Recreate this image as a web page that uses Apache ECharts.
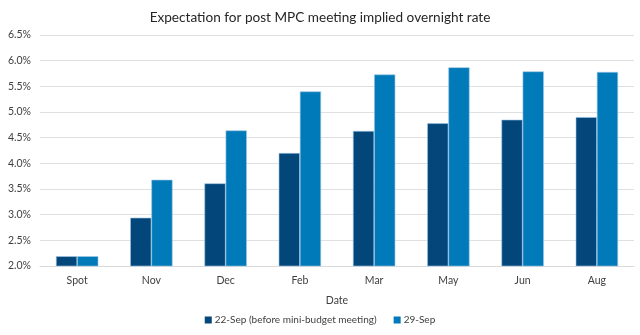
<!DOCTYPE html>
<html><head><meta charset="utf-8">
<script src="https://cdn.jsdelivr.net/npm/echarts@6/dist/echarts.min.js"></script>
<style>html,body{margin:0;padding:0;background:#fff}#c{width:640px;height:335px}</style>
</head><body><div id="c"></div>
<script>
const categories = ['Spot','Nov','Dec','Feb','Mar','May','Jun','Aug'];
const before = [2.19, 2.94, 3.61, 4.20, 4.63, 4.78, 4.85, 4.90];
const after = [2.19, 3.68, 4.64, 5.40, 5.73, 5.87, 5.79, 5.78];
const seriesNames = ['22-Sep (before mini-budget meeting)', '29-Sep'];
const yMin = 2.0, yMax = 6.5, yStep = 0.5;
const font = 'Lato, "Open Sans", sans-serif';
const chart = echarts.init(document.getElementById('c'));
chart.setOption({
  animation: false,
  title: { text: 'Expectation for post MPC meeting implied overnight rate', left: 'center', top: 6,
    textStyle: { fontFamily: font, fontSize: 13.6, fontWeight: 'normal', color: '#262626' } },
  grid: { left: 40, right: 6, top: 35, bottom: 69 },
  legend: { bottom: 5, left: 'center', itemWidth: 7, itemHeight: 7, itemGap: 17, icon: 'rect',
    itemStyle: { borderWidth: 0 },
    textStyle: { fontFamily: font, fontSize: 10, color: '#404040', padding: [0, 0, 0, -2] } },
  xAxis: { type: 'category', data: categories, name: 'Date', nameLocation: 'middle', nameGap: 29,
    nameTextStyle: { fontFamily: font, fontSize: 10.5, color: '#404040' },
    axisTick: { show: false }, axisLine: { lineStyle: { color: '#d9d9d9' } },
    axisLabel: { fontFamily: font, fontSize: 10.5, color: '#404040', margin: 9 } },
  yAxis: { type: 'value', min: yMin, max: yMax, interval: yStep,
    axisLabel: { fontFamily: font, fontSize: 10.5, color: '#404040', margin: 9,
      formatter: v => v.toFixed(1) + '%' },
    splitLine: { lineStyle: { color: '#e0e0e0' } } },
  series: [
    { name: seriesNames[0], type: 'bar', data: before, barGap: '0%', barCategoryGap: '43%',
      itemStyle: { color: '#03477a', borderColor: '#9cc4e4', borderWidth: 0.6 } },
    { name: seriesNames[1], type: 'bar', data: after,
      itemStyle: { color: '#007ab8', borderColor: '#9cc4e4', borderWidth: 0.6 } }
  ]
});
</script></body></html>
